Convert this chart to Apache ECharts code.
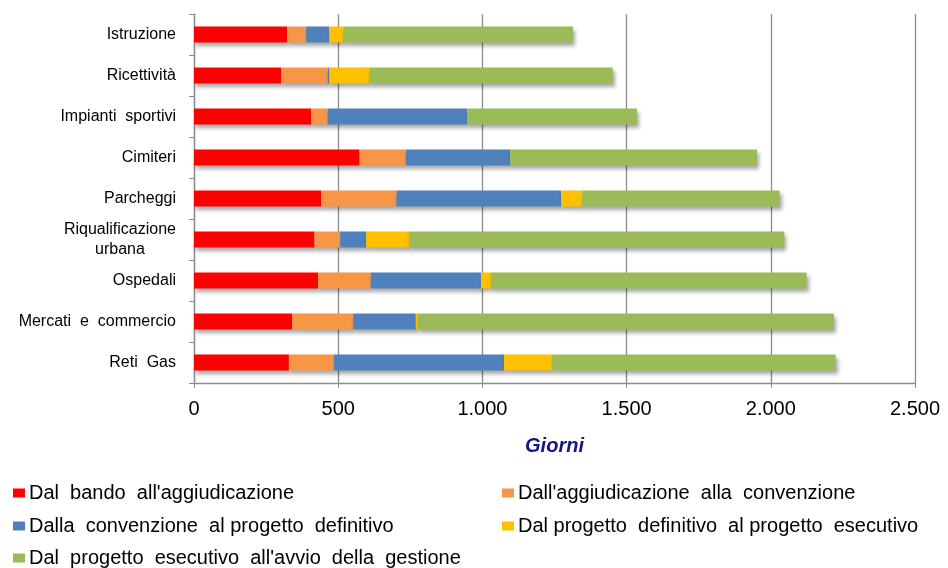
<!DOCTYPE html>
<html>
<head>
<meta charset="utf-8">
<script src="https://cdn.jsdelivr.net/npm/echarts@6/dist/echarts.min.js"></script>
<style>
  html, body { margin: 0; padding: 0; background: #fff; }
  #main { width: 948px; height: 568px; }
</style>
</head>
<body>
<div id="main"></div>
<script>
// categorie (dall'alto verso il basso)
var categorie = ['Istruzione', 'Ricettività', 'Impianti  sportivi', 'Cimiteri', 'Parcheggi',
  'Riqualificazione\nurbana', 'Ospedali', 'Mercati  e  commercio', 'Reti  Gas']

var nomiFasi = [
  "Dal  bando  all'aggiudicazione",
  "Dall'aggiudicazione  alla  convenzione",
  'Dalla  convenzione  al progetto  definitivo',
  'Dal progetto  definitivo  al progetto  esecutivo',
  "Dal  progetto  esecutivo  all'avvio  della  gestione"
]

// giorni per fase
var bandoAggiudicazione = [323, 302, 406, 574, 441, 418, 430, 341, 329]
var aggiudicazioneConvenzione = [66, 162, 57, 160, 261, 89, 183, 211, 156]
var convenzioneDefinitivo = [80, 5, 484, 362, 571, 90, 382, 217, 590]
var definitivoEsecutivo = [49, 139, 0, 0, 73, 149, 35, 6, 166]
var esecutivoGestione = [796, 844, 589, 856, 685, 1301, 1094, 1444, 984]

var ticksX = [0, 500, 1000, 1500, 2000, 2500]

var colori = ['#FF0000', '#F79646', '#4F81BD', '#FFC000', '#9BBB59']
var valori = [bandoAggiudicazione, aggiudicazioneConvenzione, convenzioneDefinitivo,
  definitivoEsecutivo, esecutivoGestione]

var font = 'Liberation Sans, Arial, sans-serif'

function formatta(v) {
  return String(v).replace(/\B(?=(\d{3})+(?!\d))/g, '.')
}

var myChart = echarts.init(document.getElementById('main'))

// posizioni legenda (due colonne)
var posLegenda = [
  {left: 13, top: 483}, {left: 502, top: 483},
  {left: 13, top: 516}, {left: 502, top: 516},
  {left: 13, top: 548}
]

var legende = nomiFasi.map(function (nome, i) {
  return {
    data: [nome],
    left: posLegenda[i].left,
    top: posLegenda[i].top,
    icon: 'rect',
    itemWidth: 12,
    itemHeight: 9,
    itemGap: 0,
    padding: 0,
    selectedMode: false,
    textStyle: {fontFamily: font, fontSize: 20, color: '#000', padding: [0, 0, 0, -1]}
  }
})

myChart.setOption({
  animation: false,
  backgroundColor: '#fff',
  legend: legende,
  grid: {left: 194, right: 33, top: 14, bottom: 185, containLabel: false},
  xAxis: {
    type: 'value',
    min: ticksX[0],
    max: ticksX[ticksX.length - 1],
    interval: 500,
    name: 'Giorni',
    nameLocation: 'middle',
    nameGap: 53,
    nameTextStyle: {fontFamily: font, fontSize: 20, fontWeight: 'bold', fontStyle: 'italic', color: '#141484'},
    axisLine: {show: true, lineStyle: {color: '#8c8c8c', width: 1.3}},
    axisTick: {show: true, length: 5, inside: false, lineStyle: {color: '#8c8c8c'}},
    axisLabel: {margin: 16, fontFamily: font, fontSize: 20, color: '#000', formatter: formatta},
    splitLine: {show: true, lineStyle: {color: '#8c8c8c', width: 1.3}}
  },
  yAxis: {
    type: 'category',
    inverse: true,
    data: categorie,
    axisLine: {show: true, lineStyle: {color: '#8c8c8c', width: 1.3}},
    axisTick: {show: true, length: 5, lineStyle: {color: '#8c8c8c'}},
    axisLabel: {
      margin: 18,
      fontFamily: font,
      fontSize: 16,
      color: '#000',
      lineHeight: 20,
      formatter: function (v) {
        return v.split('\n').map(function (r) { return '{c|' + r + '}' }).join('\n')
      },
      rich: {c: {fontFamily: font, fontSize: 16, color: '#000', align: 'center', lineHeight: 20}}
    },
    splitLine: {show: false}
  },
  series: nomiFasi.map(function (nome, i) {
    return {
      name: nome,
      type: 'bar',
      stack: 'totale',
      barWidth: 16,
      data: valori[i],
      itemStyle: {
        color: colori[i],
        shadowColor: 'rgba(0,0,0,0.35)',
        shadowBlur: 4,
        shadowOffsetX: 2,
        shadowOffsetY: 3
      }
    }
  })
})
</script>
</body>
</html>
